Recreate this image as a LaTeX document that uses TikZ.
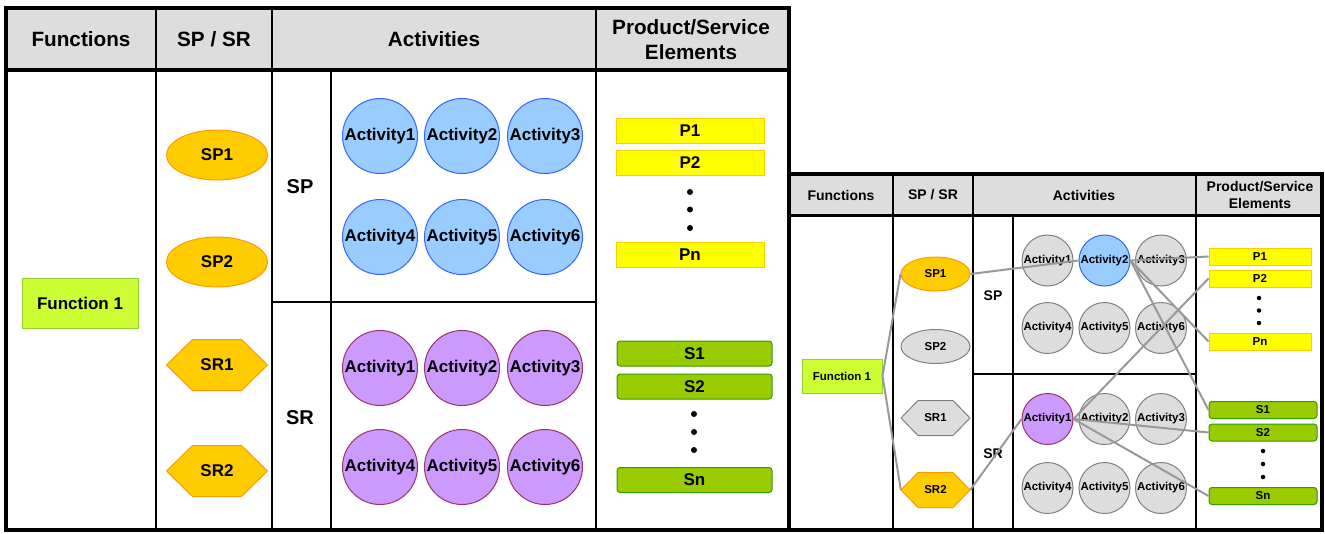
\documentclass[tikz,border=0pt]{standalone}
\usepackage{fontspec}
\setmainfont{Liberation Sans}
\usetikzlibrary{shapes.geometric}
\definecolor{hdr}{HTML}{DDDDDD}
\definecolor{fnfill}{HTML}{CCFF33}
\definecolor{fndraw}{HTML}{99CC33}
\definecolor{orfill}{HTML}{FFCC00}
\definecolor{ordraw}{HTML}{FF9900}
\definecolor{blfill}{HTML}{99CCFF}
\definecolor{bldraw}{HTML}{3366FF}
\definecolor{pufill}{HTML}{CC99FF}
\definecolor{pudraw}{HTML}{993366}
\definecolor{pfill}{HTML}{FFFF00}
\definecolor{pdraw}{HTML}{FFCC00}
\definecolor{sfill}{HTML}{99CC00}
\definecolor{sdraw}{HTML}{339900}
\definecolor{gyfill}{HTML}{DDDDDD}
\definecolor{gydraw}{HTML}{808080}
\definecolor{conn}{HTML}{999999}
\newcommand{\hexa}[9]{%
  \path[#7] ({#2-#4/2},#3) -- ({#2-#6/2},{#3-#5/2}) -- ({#2+#6/2},{#3-#5/2}) -- ({#2+#4/2},#3) -- ({#2+#6/2},{#3+#5/2}) -- ({#2-#6/2},{#3+#5/2}) -- cycle;
  \node[#8, inner sep=0pt, minimum width=#4pt, minimum height=#5pt] (#1) at (#2,#3) {#9};
}
\begin{document}
\begin{tikzpicture}[x=1pt,y=-1pt,
  hL/.style={inner sep=0pt, align=center, font=\fontsize{20.7}{25}\selectfont\bfseries},
  hR/.style={inner sep=0pt, align=center, font=\fontsize{14}{17}\selectfont\bfseries},
  tL/.style={inner sep=0pt, font=\fontsize{17}{20}\selectfont\bfseries},
  tR/.style={inner sep=0pt, font=\fontsize{11.5}{14}\selectfont\bfseries},
  lblL/.style={inner sep=0pt, font=\fontsize{20}{24}\selectfont\bfseries},
  lblR/.style={inner sep=0pt, font=\fontsize{14}{17}\selectfont\bfseries},
  fnbox/.style={rectangle, fill=fnfill, draw=fndraw, line width=1pt},
  orell/.style={ellipse, fill=orfill, draw=ordraw, line width=1pt},
  gyell/.style={ellipse, fill=gyfill, draw=gydraw, line width=1pt},
  orhex/.style={fill=orfill, draw=ordraw, line width=1pt},
  gyhex/.style={fill=gyfill, draw=gydraw, line width=1pt},
  blact/.style={circle, fill=blfill, draw=bldraw, line width=1pt},
  puact/.style={circle, fill=pufill, draw=pudraw, line width=1pt},
  gyact/.style={circle, fill=gyfill, draw=gydraw, line width=1pt},
  pbox/.style={rectangle, fill=pfill, draw=pdraw, line width=1pt},
  sbox/.style={rectangle, rounded corners=3pt, fill=sfill, draw=sdraw, line width=1pt},
  dotL/.style={circle, fill=black, inner sep=0pt, minimum size=6pt},
  dotR/.style={circle, fill=black, inner sep=0pt, minimum size=4.5pt},
  cn/.style={draw=conn, line width=2pt}
]
\useasboundingbox (0,0) rectangle (1325,533);

% ---------------- Left table ----------------
\fill[hdr] (6,8) rectangle (789,70);
\draw[line width=2pt] (156,8) -- (156,530) (272,8) -- (272,530) (596,8) -- (596,530)
  (331,70) -- (331,530) (272,302) -- (596,302);
\draw[line width=4pt] (6,70) -- (789,70);
\draw[line width=4pt] (6,8) rectangle (789,530);

\node[hL] (hfL) at (81,39) {Functions};
\node[hL] (hsL) at (214,39) {SP / SR};
\node[hL] (haL) at (434,39) {Activities};
\node[hL] (hpL) at (691,40) {Product/Service\\Elements};

\node[fnbox, tL, minimum width=116pt, minimum height=50pt] (fnL) at (80,303) {Function 1};
\node[orell, tL, minimum width=101pt, minimum height=50pt] (sp1L) at (217,155) {SP1};
\node[orell, tL, minimum width=101pt, minimum height=50pt] (sp2L) at (217,262) {SP2};
\hexa{sr1L}{217}{365}{101}{51}{49}{orhex}{tL}{SR1}
\hexa{sr2L}{217}{471}{101}{51}{49}{orhex}{tL}{SR2}
\node[lblL] (spL) at (300,187) {SP};
\node[lblL] (srL) at (300,418) {SR};

\foreach \i/\x/\y in {1/380/136,2/462/136,3/545/136,4/380/237,5/462/237,6/545/237}
  \node[blact, tL, minimum size=75pt] (abL\i) at (\x,\y) {Activity\i};
\foreach \i/\x/\y in {1/380/368,2/462/368,3/545/368,4/380/467,5/462/467,6/545/467}
  \node[puact, tL, minimum size=75pt] (apL\i) at (\x,\y) {Activity\i};

\node[pbox, tL, minimum width=148pt, minimum height=25pt] (p1L) at (690,130.5) {P1};
\node[pbox, tL, minimum width=148pt, minimum height=25pt] (p2L) at (690,162.5) {P2};
\node[dotL] (pd1L) at (690,192) {};
\node[dotL] (pd2L) at (690,209.5) {};
\node[dotL] (pd3L) at (690,228) {};
\node[pbox, tL, minimum width=148pt, minimum height=25pt] (pnL) at (690,254.5) {Pn};

\node[sbox, tL, minimum width=155pt, minimum height=25pt] (s1L) at (694.5,353.5) {S1};
\node[sbox, tL, minimum width=155pt, minimum height=25pt] (s2L) at (694.5,386.5) {S2};
\node[dotL] (sd1L) at (694,414) {};
\node[dotL] (sd2L) at (694,432) {};
\node[dotL] (sd3L) at (694,450) {};
\node[sbox, tL, minimum width=155pt, minimum height=25pt] (snL) at (694.5,480) {Sn};

% ---------------- Right table ----------------
\fill[hdr] (789,174) rectangle (1322,215);
\draw[line width=1.2pt] (893,174) -- (893,530) (973,174) -- (973,530) (1196,174) -- (1196,530)
  (1013,215) -- (1013,530) (973,374) -- (1196,374);
\draw[line width=3pt] (789,215) -- (1322,215);
\draw[line width=4pt] (789,174) rectangle (1322,530);

\node[hR] (hfR) at (841,195) {Functions};
\node[hR] (hsR) at (933,195) {SP / SR};
\node[hR] (haR) at (1084,195) {Activities};
\node[hR] (hpR) at (1260,195) {Product/Service\\Elements};

\node[fnbox, tR, minimum width=80pt, minimum height=34pt] (fnR) at (842,376) {Function 1};
\node[orell, tR, minimum width=69pt, minimum height=34pt] (sp1R) at (935.5,274) {SP1};
\node[gyell, tR, minimum width=69pt, minimum height=34pt] (sp2R) at (935.5,346.5) {SP2};
\hexa{sr1R}{935.5}{418}{69}{35}{35}{gyhex}{tR}{SR1}
\hexa{sr2R}{935.5}{490}{69}{35}{35}{orhex}{tR}{SR2}
\node[lblR] (spR) at (993,296) {SP};
\node[lblR] (srR) at (993,454) {SR};

\node[gyact, tR, minimum size=51pt] (abR1) at (1047.5,260.5) {Activity1};
\node[blact, tR, minimum size=51pt] (abR2) at (1104.5,260.5) {Activity2};
\node[gyact, tR, minimum size=51pt] (abR3) at (1161,260.5) {Activity3};
\node[gyact, tR, minimum size=51pt] (abR4) at (1047.5,328) {Activity4};
\node[gyact, tR, minimum size=51pt] (abR5) at (1104.5,328) {Activity5};
\node[gyact, tR, minimum size=51pt] (abR6) at (1161,328) {Activity6};
\node[puact, tR, minimum size=51pt] (apR1) at (1047.5,419) {Activity1};
\node[gyact, tR, minimum size=51pt] (apR2) at (1104.5,419) {Activity2};
\node[gyact, tR, minimum size=51pt] (apR3) at (1161,419) {Activity3};
\node[gyact, tR, minimum size=51pt] (apR4) at (1047.5,488) {Activity4};
\node[gyact, tR, minimum size=51pt] (apR5) at (1104.5,488) {Activity5};
\node[gyact, tR, minimum size=51pt] (apR6) at (1161,488) {Activity6};

\node[pbox, tR, minimum width=102pt, minimum height=17pt] (p1R) at (1260,256.5) {P1};
\node[pbox, tR, minimum width=102pt, minimum height=17pt] (p2R) at (1260,278.5) {P2};
\node[dotR] (pd1R) at (1259,298) {};
\node[dotR] (pd2R) at (1259,310.5) {};
\node[dotR] (pd3R) at (1259,323) {};
\node[pbox, tR, minimum width=102pt, minimum height=17pt] (pnR) at (1260,341.5) {Pn};

\node[sbox, tR, minimum width=108pt, minimum height=17pt] (s1R) at (1263,410) {S1};
\node[sbox, tR, minimum width=108pt, minimum height=17pt] (s2R) at (1263,432.5) {S2};
\node[dotR] (sd1R) at (1263,451) {};
\node[dotR] (sd2R) at (1263,464) {};
\node[dotR] (sd3R) at (1263,477) {};
\node[sbox, tR, minimum width=108pt, minimum height=17pt] (snR) at (1263,496) {Sn};

% connectors
\draw[cn] (fnR.east) -- (sp1R.west);
\draw[cn] (fnR.east) -- (sr2R.west);
\draw[cn] (sp1R.east) -- (abR2.west);
\draw[cn] (abR2.east) -- (p1R.west);
\draw[cn] (abR2.east) -- (pnR.west);
\draw[cn] (abR2.east) -- (s1R.west);
\draw[cn] (sr2R.east) -- (apR1.west);
\draw[cn] (apR1.east) -- (p2R.west);
\draw[cn] (apR1.east) -- (s2R.west);
\draw[cn] (apR1.east) -- (snR.west);
\end{tikzpicture}
\end{document}
